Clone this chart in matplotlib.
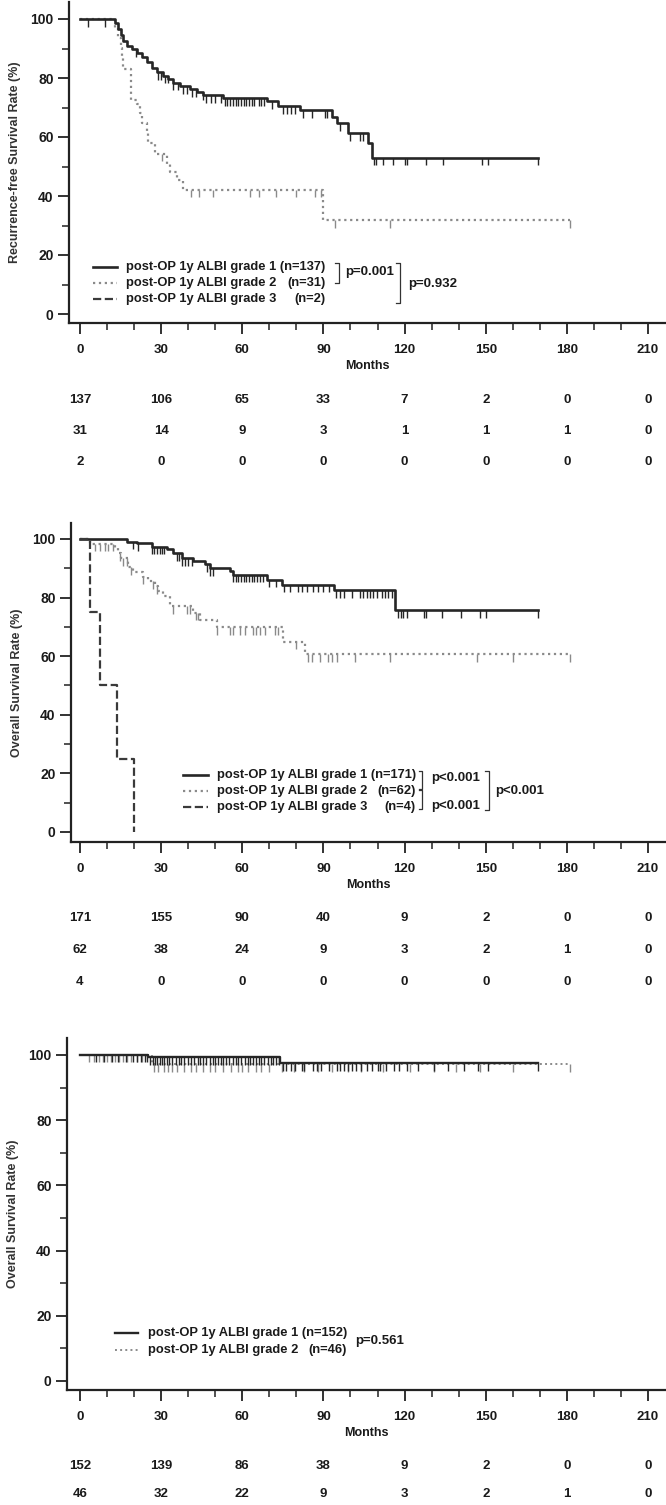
import numpy as np
import matplotlib.pyplot as plt
from matplotlib.ticker import MultipleLocator
from matplotlib.transforms import blended_transform_factory

plt.rcParams['font.family'] = ['Liberation Sans', 'DejaVu Sans']

W, H = 666, 1505
month_ticks = [0, 30, 60, 90, 120, 150, 180, 210]

# ---- panel 1: recurrence-free survival ----
rfs_g1_t = [0, 12.9, 14.2, 15.0, 15.8, 17.3, 19.1, 21.0, 22.8, 24.6, 26.5, 28.3, 30.8, 32.6, 34.5,
            37.0, 40.7, 43.1, 45.6, 53.0, 69.0, 73.3, 81.3, 93.0, 95.0, 99.0, 106.5, 108.0, 169.5]
rfs_g1_s = [100, 98.5, 96.5, 94.5, 92.5, 91.0, 89.8, 88.6, 87.2, 85.5, 83.5, 82.0, 80.8, 79.6, 78.4,
            77.2, 76.2, 75.2, 74.2, 73.2, 72.2, 70.5, 69.2, 66.9, 64.6, 61.2, 57.8, 53.0, 53.0]
rfs_g1_cens = [3, 9.2, 20.7, 29, 30, 31.5, 32.5, 34.5, 36.3, 38.2, 39.4, 41.3, 43, 45.5, 46.7, 48.6,
               49.8, 52, 53.5, 54.5, 55.5, 56.5, 57.5, 58.5, 59.5, 60.5, 61.5, 62.5, 63.5, 64.5, 66,
               67, 68, 71, 75, 76.5, 78, 79.5, 82.5, 85.8, 90.6, 91.3, 96, 99.8, 103.5, 104.6, 108.7,
               109.4, 112, 115.8, 120, 121, 128, 134.3, 148.5, 151, 169.5]
rfs_g2_t = [0, 13, 14, 15, 15.5, 16, 18.7, 21, 22.2, 22.8, 24.6, 25.3, 27.7, 32, 33.3, 35.8, 38, 90, 181]
rfs_g2_s = [100, 96.8, 93.5, 90.3, 87.1, 83.2, 72.5, 71.2, 68, 64.6, 61.2, 57.8, 54.4, 51, 48, 45.5,
            42.2, 31.7, 31.7]
rfs_g2_cens = [30.2, 41, 44, 49, 63, 66, 72.5, 80, 87, 89, 94.3, 114.6, 181]
rfs_risk = [[137, 106, 65, 33, 7, 2, 0, 0],
            [31, 14, 9, 3, 1, 1, 1, 0],
            [2, 0, 0, 0, 0, 0, 0, 0]]

# ---- panel 2: overall survival, three grades ----
os_g1_t = [0, 17.3, 21, 26.5, 32, 34.5, 37.6, 41.9, 46.2, 48, 55.5, 56.7, 69, 74.6, 93.8, 116.5, 169.5]
os_g1_s = [100, 99.1, 98.5, 97.4, 96.6, 95.2, 93.5, 92.4, 91.3, 90.1, 89, 87.8, 86.1, 84.4, 82.5,
           75.8, 75.8]
os_g1_cens = [19.7, 21.6, 26.5, 27.5, 28.5, 29.5, 30.5, 31.2, 35.7, 36.5, 37.6, 38.8, 40, 41.3, 46.8,
              48, 49.3, 56.7, 57.5, 58.5, 59.5, 60.5, 61.5, 62.5, 63.5, 64.5, 65.5, 66.5, 67.8, 70,
              72.6, 75.5, 77.5, 80.5, 82, 84, 86, 88, 90, 92, 94.8, 96, 97.5, 100.5, 103.5, 104.8,
              106, 107.3, 108.5, 109.7, 111.5, 112.7, 114, 115.5, 117.5, 118.5, 119.3, 121, 127, 128,
              133.7, 141, 148, 150, 169.5]
os_g2_t = [0, 3.7, 12.9, 14, 15, 17.9, 19.5, 23.4, 25, 27.7, 29, 30.8, 33.3, 41.9, 44.4, 50.5, 75.2,
           83.2, 181]
os_g2_s = [100, 98.4, 96.8, 95.2, 93.5, 90.3, 88.7, 87.1, 85.5, 83.9, 82.2, 80.5, 77.1, 74.8, 72.4,
           69.8, 65, 60.7, 60.7]
os_g2_cens = [5.6, 7.4, 9.2, 10.5, 12.3, 14.8, 16, 17.3, 19, 23.4, 27.1, 28.3, 34.5, 39.4, 40.7, 43,
              43.7, 50.5, 55.5, 56.7, 59.2, 61, 64, 65.2, 66.5, 68.3, 72, 73.3, 80, 84.4, 85.6, 88.7,
              91.7, 93, 95, 101.6, 114.6, 146.6, 160, 181]
os_g3_t = [0, 3.7, 7.4, 13.8, 19.8]
os_g3_s = [100, 75, 50, 25, 0]
os_risk = [[171, 155, 90, 40, 9, 2, 0, 0],
           [62, 38, 24, 9, 3, 2, 1, 0],
           [4, 0, 0, 0, 0, 0, 0, 0]]

# ---- panel 3: overall survival, two grades ----
os2_g1_t = [0, 25.3, 74, 169.5]
os2_g1_s = [100, 99.3, 97.4, 97.4]
os2_g1_cens = [6, 9, 12, 14, 17, 19.5, 21, 22.5, 24, 24.8, 26, 27, 27.8, 28.5, 29.5, 30.3, 31, 32,
               33, 34, 35.5, 36.5, 37.5, 38.5, 40, 41, 42, 43.5, 44.5, 45.5, 46.5, 48, 49, 50, 51,
               52, 53, 54, 55, 56.5, 57.5, 58.5, 59.5, 61, 62, 63, 64, 65, 66, 67, 68, 69.5, 70.5,
               71.5, 72.5, 73.5, 75, 76, 78, 79.5, 82, 83, 86, 87.5, 89, 92, 95, 96, 97.5, 99,
               100.5, 102, 104, 106, 108, 110, 111, 113, 116, 118, 121, 125, 131, 136, 142, 147,
               151, 169.5]
os2_g2_t = [0, 26.5, 181]
os2_g2_s = [100, 97.2, 97.2]
os2_g2_cens = [3.5, 5, 7, 8.5, 10, 11.5, 13, 14.5, 16, 17.5, 19, 21, 23, 27.5, 29, 31, 32.5, 34, 36,
               38.5, 41, 43, 45.5, 48, 50, 53, 56, 58.5, 60, 62, 65, 67, 70, 74.5, 79, 83, 88, 93,
               99, 104, 112, 122, 131, 139, 148, 160, 181]
os2_risk = [[152, 139, 86, 38, 9, 2, 0, 0],
            [46, 32, 22, 9, 3, 2, 1, 0]]

TXT = '#1a1a1a'
C1, C2, C3 = '#262626', '#8a8a8a', '#3a3a3a'

fig = plt.figure(figsize=(W / 100, H / 100), dpi=100)


def make_axes(left_px, top_px, axis_px, y100_px, y0_px):
    ppm = 568 / 210.0
    ppu = (y0_px - y100_px) / 100.0
    ax = fig.add_axes([left_px / W, 1 - axis_px / H, 1 - left_px / W, (axis_px - top_px) / H])
    ax.set_xlim((left_px - 80) / ppm, (W - 80) / ppm)
    ax.set_ylim(-(axis_px - y0_px) / ppu, 100 + (y100_px - top_px) / ppu)
    for sp in ['top', 'right']:
        ax.spines[sp].set_visible(False)
    for sp in ['left', 'bottom']:
        ax.spines[sp].set_linewidth(1.6)
        ax.spines[sp].set_color('#222222')
    ax.set_xticks(month_ticks)
    ax.set_yticks([0, 20, 40, 60, 80, 100])
    ax.xaxis.set_minor_locator(MultipleLocator(10))
    ax.yaxis.set_minor_locator(MultipleLocator(10))
    ax.tick_params(which='major', length=8, width=1.3, color='#222222')
    ax.tick_params(which='minor', length=5, width=1.1, color='#222222')
    ax.tick_params(axis='x', labelsize=9.5, pad=7, labelcolor=TXT)
    ax.tick_params(axis='y', labelsize=10, pad=3, labelcolor=TXT)
    for lab in ax.get_xticklabels() + ax.get_yticklabels():
        lab.set_fontweight('bold')
    ax.set_xlabel('Months', fontsize=9, fontweight='bold', color=TXT, labelpad=3)
    return ax


def km(ax, t, s, cens, ls, color, lw, tick_len):
    t = np.asarray(t)
    s = np.asarray(s)
    ax.step(t, s, where='post', ls=ls, color=color, lw=lw, clip_on=False)
    c = np.asarray(cens)
    idx = np.searchsorted(t, c, side='right') - 1
    ys = s[idx]
    ax.vlines(c, ys - tick_len, ys, color=color, lw=1.0)


def risk_table(ax, rows, ys_px):
    tr = blended_transform_factory(ax.transData, fig.transFigure)
    for row, ypx in zip(rows, ys_px):
        for m, v in zip(month_ticks, row):
            ax.text(m, 1 - ypx / H, str(v), transform=tr, ha='center', va='center',
                    fontsize=9.5, fontweight='bold', color=TXT)


def legend(ax, rows, xl, xt, fs):
    # first row is one string; the (n=..) of the other rows line up with its right end
    lab, n, y, ls, color, lw = rows[0]
    ax.plot(xl, [y, y], ls=ls, color=color, lw=lw, clip_on=False)
    t0 = ax.text(xt, y, lab + ' ' + n, ha='left', va='center', fontsize=fs, fontweight='bold',
                 color=TXT)
    fig.canvas.draw()
    bb = t0.get_window_extent()
    x_right = ax.transData.inverted().transform((bb.x1, bb.y0))[0]
    for lab, n, y, ls, color, lw in rows[1:]:
        ax.plot(xl, [y, y], ls=ls, color=color, lw=lw, clip_on=False)
        ax.text(xt, y, lab, ha='left', va='center', fontsize=fs, fontweight='bold', color=TXT)
        ax.text(x_right, y, n, ha='right', va='center', fontsize=fs, fontweight='bold', color=TXT)


def bracket(ax, x0, x1, ytop, ybot):
    ax.plot([x0, x1, x1, x0], [ytop, ytop, ybot, ybot], color='#333333', lw=0.9, clip_on=False)


label = 'post-OP 1y ALBI grade '

# panel 1
ax1 = make_axes(69, 2, 323, 19, 314)
km(ax1, rfs_g2_t, rfs_g2_s, rfs_g2_cens, ':', C2, 1.6, 2.6)
km(ax1, rfs_g1_t, rfs_g1_s, rfs_g1_cens, '-', C1, 1.9, 2.6)
ax1.set_ylabel('Recurrence-free Survival Rate (%)', fontsize=9, fontweight='bold', color='#333333',
               labelpad=7)
legend(ax1, [(label + '1', '(n=137)', 16.0, '-', C1, 1.9),
             (label + '2', '(n=31)', 10.5, ':', C2, 1.6),
             (label + '3', '(n=2)', 5.1, '--', C3, 1.6)],
       [4.8, 13.7], 17, 9.3)
bracket(ax1, 94.3, 95.8, 17.2, 10.6)
ax1.text(98, 14.2, 'p=0.001', ha='left', va='center', fontsize=9.5, fontweight='bold', color=TXT)
bracket(ax1, 116.8, 118.3, 17.2, 3.6)
ax1.text(121.3, 10.0, 'p=0.932', ha='left', va='center', fontsize=9.5, fontweight='bold', color=TXT)
risk_table(ax1, rfs_risk, [400, 431, 462])

# panel 2
ax2 = make_axes(71, 523, 842, 539, 832)
km(ax2, os_g2_t, os_g2_s, os_g2_cens, ':', C2, 1.6, 2.6)
km(ax2, os_g1_t, os_g1_s, os_g1_cens, '-', C1, 1.9, 2.6)
ax2.step(os_g3_t, os_g3_s, where='post', ls='--', color=C3, lw=1.6)
ax2.set_ylabel('Overall Survival Rate (%)', fontsize=9, fontweight='bold', color='#333333',
               labelpad=7)
legend(ax2, [(label + '1', '(n=171)', 19.5, '-', C1, 1.9),
             (label + '2', '(n=62)', 14.1, ':', C2, 1.6),
             (label + '3', '(n=4)', 8.6, '--', C3, 1.6)],
       [38, 47.3], 50.6, 9.3)
bracket(ax2, 125.2, 126.6, 20.9, 14.6)
ax2.text(130, 18.4, 'p<0.001', ha='left', va='center', fontsize=9.5, fontweight='bold', color=TXT)
bracket(ax2, 125.2, 126.6, 14.3, 7.8)
ax2.text(130, 9.0, 'p<0.001', ha='left', va='center', fontsize=9.5, fontweight='bold', color=TXT)
bracket(ax2, 149.7, 151.2, 20.9, 7.5)
ax2.text(153.5, 14.0, 'p<0.001', ha='left', va='center', fontsize=9.5, fontweight='bold', color=TXT)
risk_table(ax2, os_risk, [918, 950, 982])

# panel 3
ax3 = make_axes(67, 1038, 1390, 1055, 1381)
km(ax3, os2_g2_t, os2_g2_s, os2_g2_cens, ':', C2, 1.4, 2.3)
km(ax3, os2_g1_t, os2_g1_s, os2_g1_cens, '-', C1, 1.7, 2.3)
ax3.set_ylabel('Overall Survival Rate (%)', fontsize=9, fontweight='bold', color='#333333',
               labelpad=7)
legend(ax3, [(label + '1', '(n=152)', 14.6, '-', C1, 1.7),
             (label + '2', '(n=46)', 9.6, ':', C2, 1.4)],
       [13, 21.4], 25, 9.3)
ax3.text(101.7, 12.3, 'p=0.561', ha='left', va='center', fontsize=9.5, fontweight='bold', color=TXT)
risk_table(ax3, os2_risk, [1466, 1494])

fig.savefig('out.png', dpi=100)
